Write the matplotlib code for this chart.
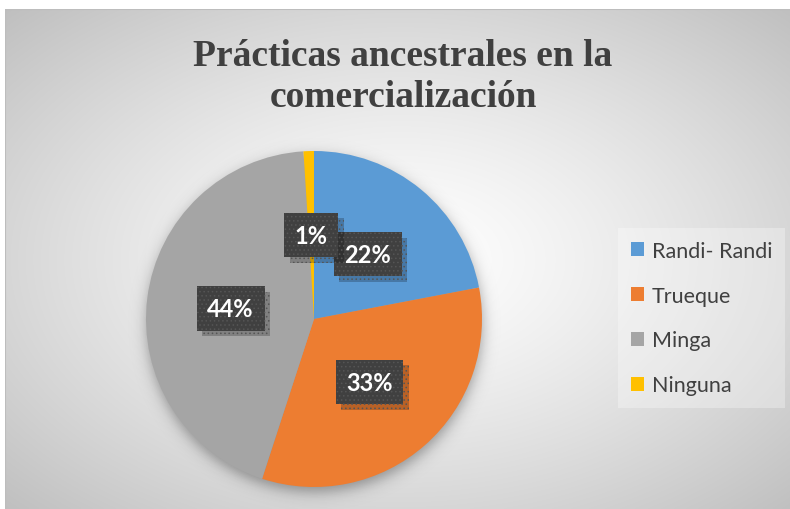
import numpy as np
import matplotlib
matplotlib.use('Agg')
from matplotlib import pyplot as plt
from matplotlib import patheffects as pe

# data
categorias = ['Randi- Randi', 'Trueque', 'Minga', 'Ninguna']
porcentajes = [22, 33, 44, 1]
colores = ['#5B9BD5', '#ED7D31', '#A5A5A5', '#FFC000']
titulo = 'Prácticas ancestrales en la\ncomercialización'

plt.rcParams['hatch.linewidth'] = 0.6

W, H = 790, 510
fig = plt.figure(figsize=(W / 100, H / 100), dpi=100)
fig.patch.set_facecolor('white')

# chart area with radial gradient
bg = fig.add_axes([5 / W, 0, 1, 500 / H])
bg.set_axis_off()
ny, nx = 250, 400
yy, xx = np.mgrid[0:ny, 0:nx]
cx, cy = nx * 0.5, ny * 0.5
d = np.hypot((xx - cx) / cx, (yy - cy) / cy) / np.sqrt(2)
g = 1.0 - 0.25 * d ** 1.3
img = np.dstack([g, g, g])
bg.imshow(img, extent=[0, 1, 0, 1], aspect='auto', interpolation='bilinear')
bg.set_xlim(0, 1)
bg.set_ylim(0, 1)
bg.plot([0, 1], [1, 1], color='#bdbdbd', lw=1.5)
bg.plot([0, 0], [0, 1], color='#bdbdbd', lw=1.5)

# pie axes
R = 168
lim = 1.15
side = 2 * lim * R
ax = fig.add_axes([(314 - side / 2) / W, (H - 320 - side / 2) / H, side / W, side / H])
wedges, _, autotexts = ax.pie(porcentajes, colors=colores, startangle=90,
                              counterclock=False, autopct='%1.0f%%',
                              pctdistance=0.5,
                              wedgeprops=dict(linewidth=0))
ax.set_xlim(-lim, lim)
ax.set_ylim(-lim, lim)
ax.set_aspect('equal')

# soft shadow under the pie
sy, sx = np.mgrid[-lim:lim:300j, -lim:lim:300j]
r = np.hypot(sx, sy + 0.035)
a = 0.35 / (1 + np.exp((r - 1.0) / 0.025))
sh = np.zeros((300, 300, 4))
sh[..., 3] = a
ax.imshow(sh, extent=[-lim, lim, -lim, lim], origin='lower', zorder=0.5,
          interpolation='bilinear')
for w in wedges:
    w.set_zorder(1)

# dark label boxes with shadow
for t in autotexts:
    t.set_fontsize(17)
    t.set_fontweight('bold')
    t.set_family('Lato')
    t.set_color('white')
    t.set_zorder(3)
    t.set_bbox(dict(boxstyle='square,pad=0.45', facecolor='#404040',
                    edgecolor='#555555', hatch='....', linewidth=0))
    t.get_bbox_patch().set_path_effects([
        pe.SimplePatchShadow(offset=(4, -4), shadow_rgbFace='black', alpha=0.22),
        pe.Normal()])

# legend
leg = fig.legend(wedges, categorias, loc='center left',
                 bbox_to_anchor=(618 / W, (H - 319) / H), frameon=True,
                 prop=dict(family='Lato', size=15.5), handlelength=0.62,
                 handleheight=0.62, handletextpad=0.35, labelspacing=1.15,
                 borderpad=0.6, borderaxespad=0, fancybox=False)
leg.get_frame().set_facecolor('white')
leg.get_frame().set_alpha(0.3)
leg.get_frame().set_linewidth(0)
for txt in leg.get_texts():
    txt.set_color('#404040')

fig.text(403 / W, 1 - 77 / H, titulo, ha='center', va='center',
         family='Liberation Serif', fontweight='bold', fontsize=27,
         color='#404040', linespacing=1.2)

fig.savefig('out.png', dpi=100)
